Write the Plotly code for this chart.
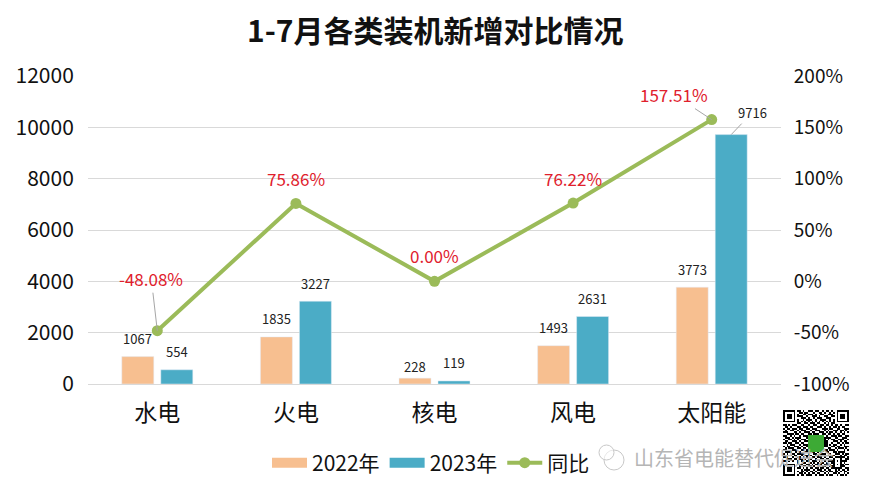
import plotly.graph_objects as go

# 数据
categories = ['水电', '火电', '核电', '风电', '太阳能']
values_2022 = [1067, 1835, 228, 1493, 3773]
values_2023 = [554, 3227, 119, 2631, 9716]
yoy = [-48.08, 75.86, 0.00, 76.22, 157.51]
yoy_labels = ['-48.08%', '75.86%', '0.00%', '76.22%', '157.51%']
left_ticks = [0, 2000, 4000, 6000, 8000, 10000, 12000]
right_ticks = [-100, -50, 0, 50, 100, 150, 200]
right_tick_labels = ['-100%', '-50%', '0%', '50%', '100%', '150%', '200%']

# 二维码水印
qr_rows = [
    '1111111011010011101100101101001111111',
    '1000001001101100010011010010101000001',
    '1011101010011011101001100111001011101',
    '1011101011100100111010011001101011101',
    '1011101000111010010111001110001011101',
    '1000001010010111001001110010101000001',
    '1111111010101010101010101010101111111',
    '0000000011001101110110010101100000000',
    '1101011100110010011001101101011010011',
    '0110100011011101100111010010110101100',
    '1011011101100110111000111011001100111',
    '0100110010111001001110010100111011010',
    '1110001101001110110011101011010010101',
    '0011110110110011011100110110101101100',
    '1100101001011100100111001001110110011',
    '0111010111000111011010011110011001110',
    '1001101010111001110000110101100111001',
    '0110011101001110011100111000111010110',
    '1101100110110011100100111001001101011',
    '0010111001011100111100111010110010100',
    '1011001110100111011100111001101100111',
    '0101110011011001100111000110010111010',
    '1100011100110110011010111011101000101',
    '0111100101001101110101001100110111100',
    '1010011011110010011011110010011101011',
    '0101101100101111001100101101100010110',
    '1110010011010100110111010011011111101',
    '0011101101101011001001101100100010011',
    '1101010010110110111010010111101011110',
    '0000000010011001010101101001100010100',
    '1111111011100110101101011110101011011',
    '1000001001011011010010110011100011100',
    '1011101011010101101101101101111110011',
    '1011101000101110010111010110010101101',
    '1011101010110101101001101011011010110',
    '1000001001101010110110010100110100101',
    '1111111010110111001011101011001011010',
]
qr_matrix = [[int(c) for c in row] for row in qr_rows[::-1]]

W, H = 869, 495
FONT = 'Noto Sans CJK SC'
PEACH = '#F7BF90'
TEAL = '#4BACC6'
GREEN = '#9BBB59'
RED = '#E0202C'


def px_x(x):
    return x / W


def px_y(y):
    return (H - y) / H


fig = go.Figure()

fig.add_trace(go.Bar(x=categories, y=values_2022, name='2022年', marker_color=PEACH,
                     showlegend=False, xaxis='x', yaxis='y'))
fig.add_trace(go.Bar(x=categories, y=values_2023, name='2023年', marker_color=TEAL,
                     showlegend=False, xaxis='x', yaxis='y'))

# 图例色块要宽，用粗线条代替
fig.add_trace(go.Scatter(x=[None], y=[None], mode='lines', name='2022年',
                         line=dict(color=PEACH, width=16), xaxis='x', yaxis='y'))
fig.add_trace(go.Scatter(x=[None], y=[None], mode='lines', name='2023年',
                         line=dict(color=TEAL, width=16), xaxis='x', yaxis='y'))
fig.add_trace(go.Scatter(x=categories, y=yoy, mode='lines+markers', name='同比',
                         line=dict(color=GREEN, width=4), marker=dict(color=GREEN, size=11),
                         xaxis='x', yaxis='y2'))

fig.add_trace(go.Heatmap(z=qr_matrix, colorscale=[[0, '#ffffff'], [1, '#000000']],
                         showscale=False, hoverinfo='skip', xaxis='x3', yaxis='y3'))

annotations = []

# 柱子数值标签
bar_offset = 19.5
for cat, v in zip(categories, values_2022):
    annotations.append(dict(x=cat, y=v, xref='x', yref='y', text=str(v), showarrow=False,
                            xshift=-bar_offset, yshift=12 if v == 228 else 18,
                            font=dict(size=13, color='#222222', family=FONT)))
for cat, v in zip(categories, values_2023):
    if v == 9716:
        annotations.append(dict(x=cat, y=v, xref='x', yref='y', text=str(v), xshift=bar_offset,
                                showarrow=True, arrowhead=0, arrowwidth=1, arrowcolor='#a6a6a6',
                                ax=21, ay=-22, font=dict(size=13, color='#222222', family=FONT)))
    else:
        annotations.append(dict(x=cat, y=v, xref='x', yref='y', text=str(v), showarrow=False,
                                xshift=bar_offset, yshift=18,
                                font=dict(size=13, color='#222222', family=FONT)))

# 同比标签
line_offsets = [(-6, -52), (0, -25), (0, -26), (0, -25), (-38, -25)]
for cat, v, lab, (ax, ay) in zip(categories, yoy, yoy_labels, line_offsets):
    long_leader = abs(ax) > 0
    annotations.append(dict(x=cat, y=v, xref='x', yref='y2', text=lab,
                            showarrow=long_leader, arrowhead=0, arrowwidth=1, arrowcolor='#a6a6a6',
                            ax=ax, ay=ay, yshift=0 if long_leader else -ay,
                            font=dict(size=17, color=RED, family=FONT)))

# 水印文字
annotations.append(dict(x=px_x(734), y=px_y(457), xref='paper', yref='paper', text='山东省电能替代促进会',
                        showarrow=False, yanchor='middle', xanchor='center',
                        font=dict(size=20, color='#b5b5b5', family=FONT)))

# 标题
annotations.append(dict(x=px_x(435), y=px_y(29), xref='paper', yref='paper',
                        text='<b>1-7月各类装机新增对比情况</b>', showarrow=False,
                        yanchor='middle', xanchor='center',
                        font=dict(size=30, color='#111111', family=FONT)))

shapes = [
    # 二维码中间的绿色方块
    dict(type='rect', xref='paper', yref='paper', x0=px_x(808), x1=px_x(824),
         y0=px_y(452), y1=px_y(435), fillcolor='#3DAA35', line_width=0, layer='above'),
    # 水印图标
    dict(type='circle', xref='paper', yref='paper', x0=px_x(604), x1=px_x(624),
         y0=px_y(470), y1=px_y(450), fillcolor='rgba(0,0,0,0)',
         line=dict(color='#c8c8c8', width=1)),
    dict(type='circle', xref='paper', yref='paper', x0=px_x(599), x1=px_x(614),
         y0=px_y(460), y1=px_y(445), fillcolor='rgba(255,255,255,0.6)',
         line=dict(color='#c8c8c8', width=1)),
]

fig.update_layout(
    width=W, height=H,
    margin=dict(l=0, r=0, t=0, b=0),
    paper_bgcolor='white', plot_bgcolor='white',
    font=dict(family=FONT, color='#111111'),
    barmode='group', bargap=0.437, bargroupgap=0.18,
    xaxis=dict(domain=[px_x(88), px_x(781)], anchor='y', showgrid=False, automargin=False,
               showline=True, linecolor='#d9d9d9', linewidth=1,
               ticks='outside', ticklen=8, tickcolor='rgba(0,0,0,0)',
               tickfont=dict(size=23, color='#111111'), range=[-0.5, 4.5]),
    yaxis=dict(domain=[px_y(384), px_y(76)], anchor='x', range=[0, 12000], automargin=False,
               tickvals=left_ticks, tickformat='d', showgrid=True, gridcolor='#d9d9d9', gridwidth=1,
               zeroline=False, ticks='outside', ticklen=9, tickcolor='rgba(0,0,0,0)',
               tickfont=dict(size=21, color='#111111')),
    yaxis2=dict(domain=[px_y(384), px_y(76)], anchor='x', overlaying='y', side='right',
                range=[-100, 200], tickvals=right_ticks, ticktext=right_tick_labels, automargin=False,
                showgrid=False, zeroline=False, ticks='outside', ticklen=8,
                tickcolor='rgba(0,0,0,0)', tickfont=dict(size=19, color='#111111')),
    xaxis3=dict(domain=[px_x(783), px_x(849)], anchor='y3', visible=False, automargin=False),
    yaxis3=dict(domain=[px_y(476), px_y(410)], anchor='x3', visible=False, automargin=False),
    legend=dict(orientation='h', x=px_x(267), y=px_y(463), xanchor='left', yanchor='middle',
                itemwidth=35, font=dict(size=21, color='#111111'), bgcolor='rgba(0,0,0,0)',
                itemclick=False, itemdoubleclick=False),
    annotations=annotations,
    shapes=shapes,
)

fig.write_html('out.html', post_script="document.body.style.margin='0';",
               config={'displayModeBar': False})
